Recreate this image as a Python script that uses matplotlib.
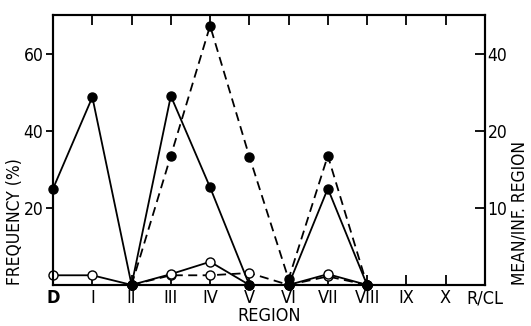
import matplotlib
matplotlib.use('Agg')
import matplotlib.pyplot as plt

plt.rcParams['font.family'] = ['DejaVu Sans']
plt.rcParams['font.stretch'] = 'condensed'

regions = ['D', 'I', 'II', 'III', 'IV', 'V', 'VI', 'VII', 'VIII', 'IX', 'X', 'R/CL']

# solid, filled markers (from D to VIII)
solid_filled = [25, 48.7, 0, 49, 25.3, 0, 0, 25, 0]
# solid, open markers
solid_open = [2.5, 2.5, 0, 2.8, 6, 0, 0, 2.8, 0]
# dashed series start at region II
dashed_filled = [0, 33.5, 67.2, 33.3, 1.5, 33.5, 0]
dashed_open = [0, 2.5, 2.5, 3.1, 0, 2.2, 0]

right_ticks = [20, 40, 60]
right_labels = ['10', '20', '40']

fig = plt.figure(figsize=(5.31, 3.26), dpi=100)
ax = fig.add_axes([0.1, 0.126, 0.813, 0.828])

x_all = list(range(len(regions)))
x_solid = x_all[:len(solid_filled)]
x_dash = x_all[2:2 + len(dashed_filled)]

ax.plot(x_dash, dashed_open, color='black', lw=1.3, dashes=(5, 3), marker='o', ms=6.5,
        mfc='white', mec='black', clip_on=False, zorder=3)
ax.plot(x_solid, solid_open, '-', color='black', lw=1.3, marker='o', ms=6.5,
        mfc='white', mec='black', clip_on=False, zorder=3)
ax.plot(x_dash, dashed_filled, color='black', lw=1.3, dashes=(5, 3), marker='o', ms=6.5,
        mfc='black', mec='black', clip_on=False, zorder=4)
ax.plot(x_solid, solid_filled, '-', color='black', lw=1.3, marker='o', ms=6.5,
        mfc='black', mec='black', clip_on=False, zorder=4)

ax.set_xlim(0, 11)
ax.set_ylim(0, 70)
ax.set_xticks(x_all)
ax.set_xticklabels(regions, fontsize=13)
ax.get_xticklabels()[0].set_fontweight('bold')
ax.set_yticks([20, 40, 60])
ax.tick_params(axis='y', direction='out', length=5, width=1.3, labelsize=12.5, pad=2)
ax.tick_params(axis='x', direction='in', length=7, width=1.3, top=True, pad=3)
for s in ax.spines.values():
    s.set_linewidth(1.5)

ax.set_xlabel('REGION', fontsize=13, labelpad=0)
ax.set_ylabel('FREQUENCY (%)', fontsize=12.5, loc='bottom')
ax.yaxis.set_label_coords(-0.068, 0)

ax2 = ax.twinx()
ax2.set_ylim(0, 70)
ax2.set_yticks(right_ticks)
ax2.set_yticklabels(right_labels, fontsize=12.5)
ax2.tick_params(axis='y', direction='in', length=7, width=1.3, pad=2)
ax2.set_ylabel('MEAN/INF. REGION', fontsize=12.5, loc='bottom')
ax2.yaxis.set_label_coords(1.06, 0)
for s in ax2.spines.values():
    s.set_linewidth(1.5)

fig.savefig('out.png', dpi=100)
